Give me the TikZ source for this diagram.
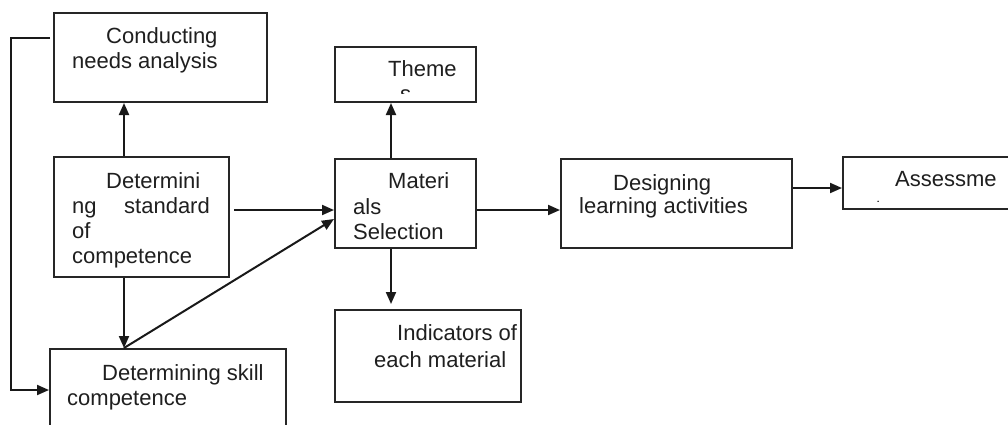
\documentclass[tikz,border=0pt]{standalone}
\usepackage{fontspec}
\setmainfont{Liberation Sans}
\usetikzlibrary{arrows.meta}
\begin{document}
\begin{tikzpicture}[x=1pt,y=-1pt,
  box/.style={draw=black!85, line width=2pt, inner sep=0pt, fill=white},
  lbl/.style={anchor=base west, inner sep=0pt, font=\fontsize{22}{26}\selectfont, text=black!88},
  arr/.style={draw=black!90, line width=2pt, -{Triangle[length=12pt,width=10pt]}}]
\useasboundingbox (0,0) rectangle (1008,424);
% boxes
\node[box, minimum width=213pt, minimum height=89pt] (A) at (160.5,57.5) {};
\node[box, minimum width=175pt, minimum height=120pt] (B) at (141.5,217) {};
\node[box, minimum width=236pt, minimum height=96pt] (C) at (168,397) {};
\node[box, minimum width=141pt, minimum height=55pt] (D) at (405.5,74.5) {};
\node[box, minimum width=141pt, minimum height=89pt] (E) at (405.5,203.5) {};
\node[box, minimum width=186pt, minimum height=92pt] (F) at (428,356) {};
\node[box, minimum width=231pt, minimum height=89pt] (G) at (676.5,203.5) {};
\node[box, minimum width=172pt, minimum height=52pt] (H) at (929,183) {};
% texts
\node[lbl] (tA1) at (106,43) {Conducting};
\node[lbl] (tA2) at (72,68) {needs analysis};
\node[lbl] (tB1) at (106,188) {Determini};
\node[lbl] (tB2) at (72,213) {ng};
\node[lbl] (tB3) at (124,213) {standard};
\node[lbl] (tB4) at (72,238) {of};
\node[lbl] (tB5) at (72,263) {competence};
\node[lbl] (tC1) at (102,380) {Determining skill};
\node[lbl] (tC2) at (67,405) {competence};
\node[lbl] (tD1) at (388,76) {Theme};
\begin{scope}
  \clip (336,48) rectangle (475,93.5);
  \node[lbl] (tD2) at (400,101) {s};
\end{scope}
\node[lbl] (tE1) at (388,188) {Materi};
\node[lbl] (tE2) at (353,214) {als};
\begin{scope}
  \clip (336,160) rectangle (475,240.5);
  \node[lbl] (tE3) at (353,239.5) {Selection};
\end{scope}
\node[lbl] (tF1) at (397,340) {Indicators of};
\node[lbl] (tF2) at (374,367) {each material};
\node[lbl] (tG1) at (613,190) {Designing};
\node[lbl] (tG2) at (579,213) {learning activities};
\node[lbl] (tH1) at (895,186) {Assessme};
\begin{scope}
  \clip (844,158) rectangle (1008,201);
  \node[lbl] (tH2) at (863,215) {nt};
\end{scope}
% connectors
\coordinate (L) at (50,38);
\draw[arr] (L) -- ++(-39,0) |- ([yshift=7pt]C.west);
\draw[arr] ([xshift=-17.5pt]B.north) -- ([xshift=-17.5pt]B.north |- A.south);
\draw[arr] ([xshift=-17.5pt]B.south) -- ([xshift=-17.5pt]B.south |- C.north);
\draw[arr] ([xshift=-17.5pt]B.south |- C.north) -- ([yshift=-15.5pt]E.west);
\draw[arr] ([shift={(4pt,7pt)}]B.east) -- ([yshift=-6.5pt]E.west);
\draw[arr] ([xshift=-14.5pt]E.north) -- ([xshift=-14.5pt]E.north |- D.south);
\draw[arr] ([xshift=-14.5pt]E.south) -- ([xshift=-14.5pt,yshift=5pt]E.south |- F.north);
\draw[arr] ([yshift=-6.5pt]E.east) -- ([yshift=-6.5pt]E.east -| G.west);
\draw[arr] ([yshift=15.5pt]G.east) -- ([yshift=15.5pt]G.east -| H.west);
\end{tikzpicture}
\end{document}
